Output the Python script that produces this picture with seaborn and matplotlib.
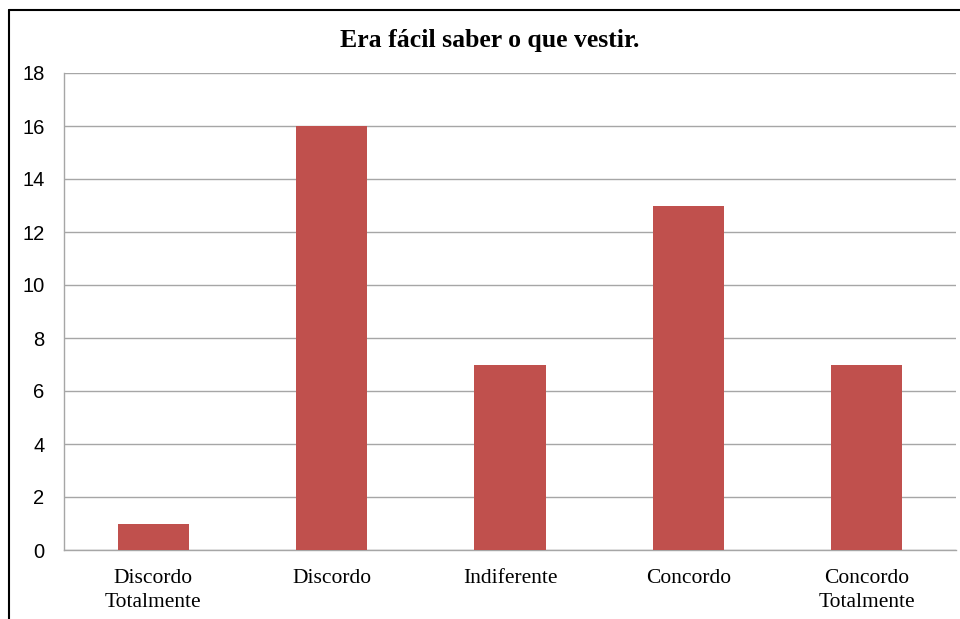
import numpy as np
import pandas as pd
import matplotlib
matplotlib.use("Agg")
import matplotlib.pyplot as plt
import seaborn as sns
from matplotlib.lines import Line2D

categories = ["Discordo\nTotalmente", "Discordo", "Indiferente", "Concordo", "Concordo\nTotalmente"]
counts = [1, 16, 7, 13, 7]
y_ticks = [0, 2, 4, 6, 8, 10, 12, 14, 16, 18]
title = "Era fácil saber o que vestir."

bar_color = "#C0504D"
grid_color = "#A6A6A6"

sns.set_theme(style="white")

df = pd.DataFrame({"categoria": categories, "n": counts})

fig = plt.figure(figsize=(9.6, 6.19), dpi=100)
ax = fig.add_axes([64 / 960, 1 - 550 / 619, (956 - 64) / 960, (550 - 73) / 619])

sns.barplot(data=df, x="categoria", y="n", color=bar_color, saturation=1,
            width=0.4, linewidth=0, ax=ax, zorder=3)

ax.set_ylim(0, 18)
ax.set_yticks(y_ticks)
ax.set_xlim(-0.5, len(categories) - 0.5)
ax.yaxis.grid(True, color=grid_color, linewidth=1)
ax.set_axisbelow(True)
for side in ["top", "right"]:
    ax.spines[side].set_visible(False)
for side in ["left", "bottom"]:
    ax.spines[side].set_color(grid_color)
    ax.spines[side].set_linewidth(1)

ax.set_xlabel("")
ax.set_ylabel("")
ax.tick_params(axis="y", length=0, pad=14, labelsize=14.5)
ax.tick_params(axis="x", length=0, pad=14)
for lbl in ax.get_yticklabels():
    lbl.set_fontfamily("Liberation Sans")
    lbl.set_color("black")
for lbl in ax.get_xticklabels():
    lbl.set_fontfamily("Liberation Serif")
    lbl.set_fontsize(15.5)
    lbl.set_color("black")
    lbl.set_linespacing(1.3)

fig.text(490 / 960, 1 - 40 / 619, title, ha="center", va="center",
         fontfamily="Liberation Serif", fontweight="bold", fontsize=18.5, color="black")

# frame around the chart (left and top edges visible)
fig.add_artist(Line2D([9 / 960, 9 / 960], [0, 1 - 10 / 619], color="black", linewidth=1.5,
                      transform=fig.transFigure))
fig.add_artist(Line2D([9 / 960, 1], [1 - 10 / 619, 1 - 10 / 619], color="black", linewidth=1.5,
                      transform=fig.transFigure))

fig.savefig("out.png", dpi=100)
